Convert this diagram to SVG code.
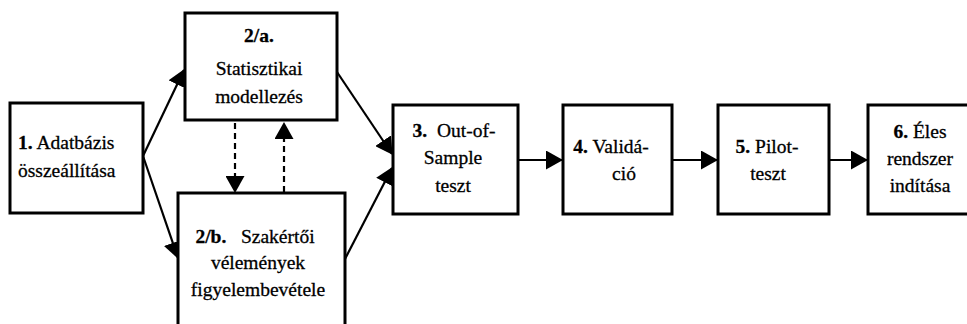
<svg xmlns="http://www.w3.org/2000/svg" width="967" height="324" viewBox="0 0 967 324">
<style>
.box{fill:#fff;stroke:#000;stroke-width:3}
.t{font-family:"Liberation Serif","Times New Roman",serif;font-size:19.5px;fill:#000;stroke:#000;stroke-width:0.3}
.c{text-anchor:middle}
.b{font-weight:bold}
.ln{fill:none;stroke:#000;stroke-width:2.2}
.dash{stroke-dasharray:6 4}
</style>
<defs>
<marker id="ah" viewBox="0 0 17 19" refX="16" refY="9.5" markerWidth="17" markerHeight="19" markerUnits="userSpaceOnUse" orient="auto">
<path d="M0,0 L17,9.5 L0,19 z" fill="#000"/>
</marker>
</defs>
<rect width="967" height="324" fill="#fff"/>
<g id="connectors">
<line class="ln" x1="143" y1="156" x2="184" y2="70" marker-end="url(#ah)"/>
<line class="ln" x1="143" y1="156" x2="178" y2="258" marker-end="url(#ah)"/>
<line class="ln" x1="337" y1="72" x2="392" y2="154" marker-end="url(#ah)"/>
<line class="ln" x1="345" y1="259" x2="392" y2="168" marker-end="url(#ah)"/>
<line class="ln dash" x1="235" y1="123" x2="235" y2="192" marker-end="url(#ah)"/>
<line class="ln dash" x1="284" y1="192" x2="284" y2="123" marker-end="url(#ah)"/>
<line class="ln" x1="518" y1="160" x2="562" y2="160" marker-end="url(#ah)"/>
<line class="ln" x1="672" y1="160" x2="717" y2="160" marker-end="url(#ah)"/>
<line class="ln" x1="829" y1="160" x2="867" y2="160" marker-end="url(#ah)"/>
</g>
<g id="n1">
<rect class="box" x="10" y="103" width="133" height="110"/>
<text class="t" x="18" y="149"><tspan class="b">1.</tspan> Adatbázis</text>
<text class="t" x="18" y="177">összeállítása</text>
</g>
<g id="n2a">
<rect class="box" x="185" y="13" width="152" height="107"/>
<text class="t c b" x="259" y="42">2/a.</text>
<text class="t c" x="259" y="75">Statisztikai</text>
<text class="t c" x="259" y="103">modellezés</text>
</g>
<g id="n2b">
<rect class="box" x="178" y="193" width="167" height="150"/>
<text class="t c" x="255" y="243" xml:space="preserve"><tspan class="b">2/b.</tspan>   Szakértői</text>
<text class="t c" x="258" y="269">vélemények</text>
<text class="t c" x="258" y="296">figyelembevétele</text>
</g>
<g id="n3">
<rect class="box" x="393" y="105" width="125" height="109"/>
<text class="t c" x="454" y="137" xml:space="preserve"><tspan class="b">3.</tspan>  Out-of-</text>
<text class="t c" x="453" y="164">Sample</text>
<text class="t c" x="453" y="192">teszt</text>
</g>
<g id="n4">
<rect class="box" x="563" y="105" width="109" height="109"/>
<text class="t c" x="611" y="153"><tspan class="b">4.</tspan> Validá-</text>
<text class="t c" x="624" y="180">ció</text>
</g>
<g id="n5">
<rect class="box" x="718" y="105" width="111" height="109"/>
<text class="t c" x="767" y="153"><tspan class="b">5.</tspan> Pilot-</text>
<text class="t c" x="768" y="180">teszt</text>
</g>
<g id="n6">
<rect class="box" x="868" y="105" width="120" height="109"/>
<text class="t c" x="920" y="138"><tspan class="b">6.</tspan> Éles</text>
<text class="t c" x="920" y="165">rendszer</text>
<text class="t c" x="920" y="192">indítása</text>
</g>
</svg>
